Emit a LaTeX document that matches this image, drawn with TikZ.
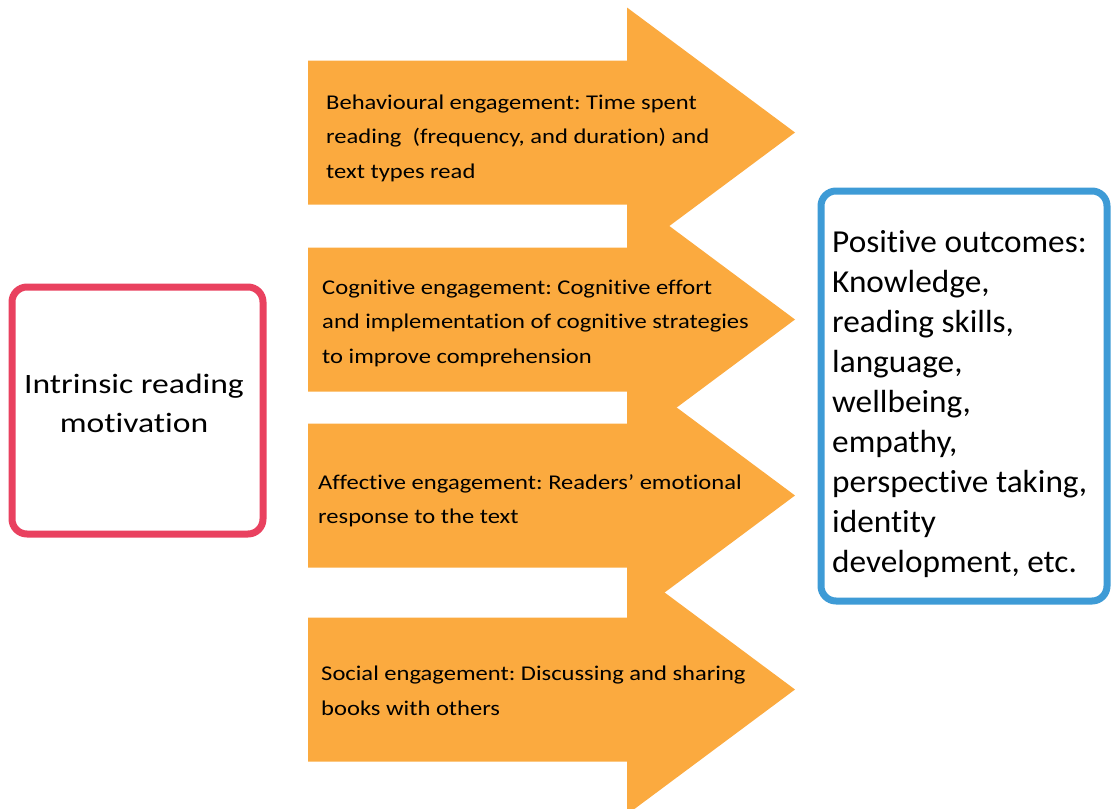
\documentclass[tikz,border=0pt]{standalone}
\usepackage{fontspec}
\setmainfont{Carlito}[Ligatures=NoCommon]
\frenchspacing
\definecolor{arroworange}{HTML}{FBAA3F}
\definecolor{motivred}{HTML}{E9415F}
\definecolor{outcomeblue}{HTML}{3E9BD6}
\begin{document}
\begin{tikzpicture}[x=1pt,y=-1pt,
  engtext/.style={anchor=west,align=left,inner sep=0pt,xscale=1.17,
    font=\fontsize{21}{34.5}\selectfont},
  framebox/.style={rounded corners=15pt,line width=7pt,fill=white}]
\useasboundingbox (0,0) rectangle (1112,809);
\clip (0,0) rectangle (1112,809);
% block arrows: centre line c, body half-height 72, head half-height 125
\foreach \c in {132.5,319.5,495.5,689.5}{
  \fill[arroworange] (308,\c-72) -- (627,\c-72) -- (627,\c-125) -- (795,\c)
    -- (627,\c+125) -- (627,\c+72) -- (308,\c+72) -- cycle;
}
\node[engtext] (behav) at (326,138) {Behavioural engagement: Time spent\\reading~ (frequency, and duration) and\\text types read};
\node[engtext] (cogn) at (322,323) {Cognitive engagement: Cognitive effort\\and implementation of cognitive strategies\\to improve comprehension};
\node[engtext] (affect) at (318,501) {Affective engagement: Readers’ emotional\\response to the text};
\node[engtext] (social) at (321,691) {Social engagement: Discussing and sharing\\books with others};
% left box
\draw[framebox,draw=motivred] (12,287) rectangle (263,534);
\node[align=center,inner sep=0pt,xscale=1.2,font=\fontsize{28}{39}\selectfont] (motiv) at (134,403) {Intrinsic reading\\motivation};
% right box
\draw[framebox,draw=outcomeblue] (821,191) rectangle (1107,601);
\node[anchor=west,align=left,inner sep=0pt,xscale=1.04,font=\fontsize{32}{40}\selectfont] (outc) at (832,404) {Positive outcomes:\\Knowledge,\\reading skills,\\language,\\wellbeing,\\empathy,\\perspective taking,\\identity\\development, etc.};
\end{tikzpicture}
\end{document}
